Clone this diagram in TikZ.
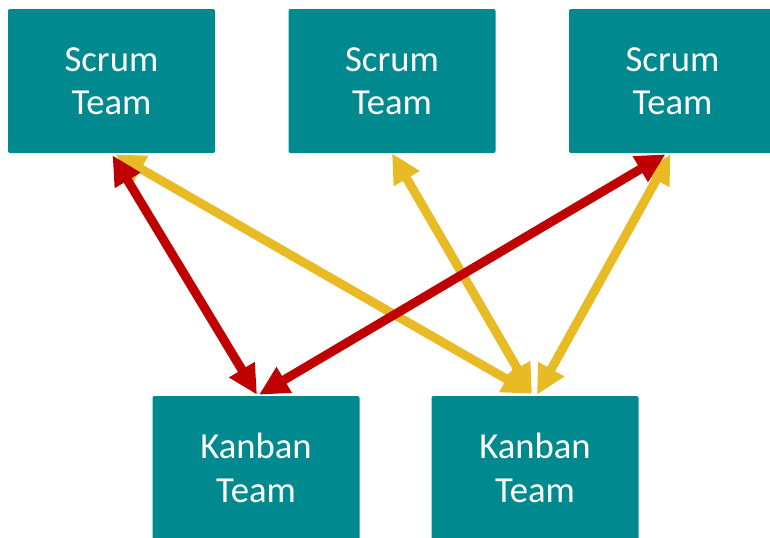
\documentclass[tikz,border=0pt]{standalone}
\usepackage{fontspec}
\setmainfont{Carlito}
\usetikzlibrary{arrows.meta,calc}
\definecolor{teamteal}{RGB}{0,138,143}
\definecolor{linkred}{RGB}{192,0,0}
\definecolor{linkgold}{RGB}{232,186,36}
\begin{document}
\begin{tikzpicture}[x=0.75pt,y=-0.75pt,
  team/.style={fill=teamteal,draw=none,rounded corners=1.5pt,
    minimum width=155.25pt,minimum height=108pt,inner sep=0pt,
    align=center,text=white,font=\fontsize{27.5}{32.5}\selectfont},
  link/.style={line width=6.75pt,
    {Triangle[length=22pt,width=21pt]}-{Triangle[length=22pt,width=21pt]}},
]
\useasboundingbox (0,0) rectangle (770,537);
\begin{scope}
\clip (0,0) rectangle (770,537);
% top row
\node[team] (s1) at (111.5,81) {Scrum\\Team};
\node[team] (s2) at (392,81) {Scrum\\Team};
\node[team] (s3) at (672.5,81) {Scrum\\Team};
% bottom row
\node[team] (k1) at (256,468) {Kanban\\Team};
\node[team] (k2) at (535,468) {Kanban\\Team};
\end{scope}
% attachment points
\coordinate (s1r) at ($(s1.south)+(1,2)$);
\coordinate (s1y) at ($(s1.south)+(4,1)$);
\coordinate (s3r) at ($(s3.south)+(-7,1)$);
\coordinate (s3y) at ($(s3.south)+(-2,1)$);
\coordinate (k1a) at ($(k1.north)+(1,-1)$);
\coordinate (k1b) at ($(k1.north)+(3,-1)$);
\coordinate (k2a) at ($(k2.north)+(-3,-2)$);
\coordinate (k2b) at ($(k2.north)+(2,-1)$);
% gold links
\draw[link,linkgold] (s1y) -- (k2a);
\draw[link,linkgold] (s2.south) -- (k2a);
\draw[link,linkgold] (s3y) -- (k2b);
% red links
\draw[link,linkred] (s1r) -- (k1a);
\draw[link,linkred] (s3r) -- (k1b);
\end{tikzpicture}
\end{document}
